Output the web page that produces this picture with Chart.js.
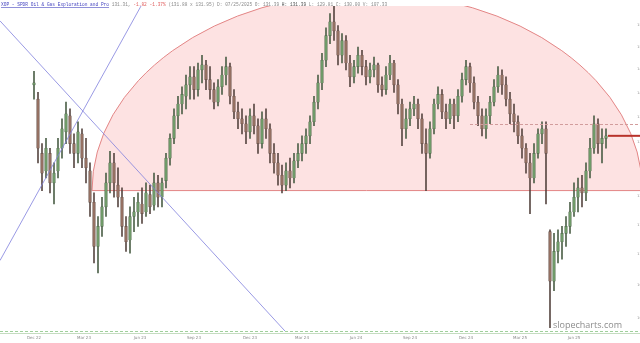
<!DOCTYPE html>
<html>
<head>
<meta charset="utf-8">
<script src="https://cdn.jsdelivr.net/npm/chart.js@4.4.1/dist/chart.umd.min.js"></script>
<style>
  html, body { margin: 0; padding: 0; background: #ffffff; }
  #grafica { display: block; }
</style>
</head>
<body>
<canvas id="grafica" width="640" height="343"></canvas>
<script>
// Datos de las velas (precio)
const aperturas = [141.7,138.7,127.9,124.6,127.9,122.4,124.6,128.9,132.1,135.3,129.8,127.9,131.7,127.0,124.6,118.9,111.3,114.7,118.1,122.4,
  126.1,122.0,119.8,114.7,112.4,116.4,117.2,118.6,117.2,120.3,118.4,122.4,119.8,122.8,127.0,130.8,135.3,137.7,139.3,141.7,
  143.4,140.7,144.9,146.0,142.8,140.7,138.1,141.3,143.8,145.6,139.3,136.1,134.7,133.7,132.1,135.3,133.3,129.8,134.7,132.7,
  127.9,126.1,123.8,122.0,124.6,123.3,126.5,127.9,129.8,131.3,134.1,138.1,142.1,147.0,152.5,155.7,153.6,148.1,151.4,146.4,
  143.4,145.6,148.1,145.6,143.4,144.9,146.0,141.7,140.7,143.8,146.4,141.7,137.7,132.7,134.7,136.7,137.7,134.7,129.8,127.9,
  132.7,137.7,139.7,136.1,134.7,137.7,135.3,139.3,142.8,145.6,142.1,138.1,135.3,132.7,135.3,138.1,141.3,143.8,141.7,138.7,
  135.7,134.1,131.3,128.9,126.1,123.3,127.9,131.7,132.7,113.8,105.7,110.5,112.1,113.5,114.7,117.2,119.8,121.5,120.6,124.6,
  128.9,133.7,129.8,130.8];
const maximos = [144.6,140.1,129.8,130.8,128.9,126.1,130.8,134.7,138.1,136.7,131.7,134.1,132.7,130.8,126.1,120.6,116.4,119.8,124.2,128.3,
  127.9,125.2,121.5,116.4,118.1,119.8,120.6,121.5,122.4,122.0,124.2,123.8,123.3,127.9,131.7,136.7,139.3,141.3,143.8,145.6,
  145.6,146.4,148.1,147.0,145.6,142.1,142.8,145.6,147.7,146.4,140.7,138.1,136.7,135.3,136.7,137.7,134.7,136.1,136.7,133.7,
  129.8,127.9,125.7,126.1,127.0,127.9,129.8,131.3,132.7,135.3,139.3,143.8,148.5,154.3,157.6,159.4,154.8,153.0,152.5,148.1,
  147.0,149.9,149.2,147.0,146.4,147.7,146.4,143.4,145.6,148.1,147.0,142.8,138.7,136.7,138.1,139.3,138.7,135.7,132.7,134.1,
  138.7,141.3,140.7,137.7,138.7,138.7,140.7,144.2,147.0,146.4,143.4,139.3,136.7,136.7,139.3,142.8,145.6,144.9,143.4,140.1,
  137.7,135.3,132.7,129.8,127.9,129.8,132.7,134.1,134.1,114.1,113.5,114.1,114.7,116.4,118.9,122.4,123.3,123.8,126.1,130.8,
  135.3,134.7,132.7,132.7];
const minimos = [138.7,126.1,121.0,123.3,120.6,118.6,123.3,127.0,129.8,127.9,125.2,126.1,125.2,122.4,116.4,108.6,107.0,113.0,116.4,120.6,
  119.8,118.1,113.0,110.5,110.2,113.8,114.7,115.2,116.4,116.9,117.5,118.1,118.1,121.5,125.7,129.8,132.7,135.7,136.7,138.7,
  138.7,139.3,142.1,140.7,138.7,136.7,137.3,139.7,141.7,137.7,134.7,132.7,131.7,129.8,130.8,131.7,127.9,128.9,130.8,126.1,
  124.2,122.0,120.6,121.0,121.5,122.4,125.2,126.5,127.9,129.8,133.3,136.7,140.7,145.6,150.7,151.4,146.0,146.4,144.9,141.3,
  142.1,144.2,143.8,141.7,142.1,143.4,140.1,139.3,139.7,142.8,140.1,135.7,129.4,130.8,133.3,135.3,132.7,127.9,121.0,127.0,
  131.7,136.7,134.7,132.7,133.7,132.7,134.1,138.1,141.7,140.1,136.7,133.3,131.3,130.8,133.7,137.3,140.1,139.7,137.3,133.7,
  132.1,129.8,127.0,124.2,116.9,122.4,127.0,129.8,118.6,98.6,104.2,108.6,109.2,111.3,113.5,116.4,117.2,118.1,119.2,123.3,
  127.9,127.9,126.1,128.9];
const cierres = [142.1,128.9,124.2,128.9,122.4,124.2,128.9,132.7,135.7,129.8,127.9,132.1,127.0,125.2,118.9,111.3,114.7,118.1,122.4,126.1,
  122.4,119.8,114.7,112.1,116.4,117.2,118.9,116.9,120.6,118.1,122.4,119.8,122.4,127.0,130.8,135.3,137.7,139.7,141.7,143.4,
  140.7,144.9,146.0,142.8,140.7,138.1,141.3,143.8,145.6,139.3,136.1,134.7,133.7,132.1,135.3,133.3,129.8,134.7,132.7,127.9,
  126.1,123.8,122.0,124.6,123.3,126.5,127.9,129.8,131.3,134.1,138.1,142.1,147.0,152.5,155.7,153.6,148.1,151.4,146.4,143.4,
  145.6,148.1,145.6,143.4,144.9,146.0,141.7,140.7,143.8,146.4,141.7,137.7,132.7,134.7,136.7,137.7,134.7,129.8,127.9,132.7,
  137.7,139.7,136.1,134.7,137.7,135.3,139.3,142.8,145.6,142.1,138.1,135.3,132.7,135.3,138.1,141.3,143.8,141.7,138.7,135.7,
  134.1,131.3,128.9,126.1,123.3,127.9,131.7,132.7,127.9,105.7,110.5,112.1,113.5,114.7,117.2,119.8,121.5,120.6,124.6,128.9,
  133.7,129.8,130.8,131.3];

// Etiquetas de los ejes
const etiquetasX = ['Dec 22','Mar 23','Jun 23','Sep 23','Dec 23','Mar 24','Jun 24','Sep 24','Dec 24','Mar 25','Jun 25'];
const posicionesX = [0, 12.5, 26.5, 40, 54, 67, 80.5, 94, 108, 121.5, 135];
const ticksY = [100, 105, 110, 115, 120, 125, 130, 135, 140, 145, 150, 155];

// Dibujos sobre el gráfico (en unidades de vela / precio)
const arcoCentro = 83.3;
const arcoSemiAncho = 68.8;
const arcoBase = 121.0;
const arcoTope = 162.6;
const lineaA = [[-8.5, 109.0], [26.75, 159.4]];
const lineaB = [[-8.5, 155.9], [62.75, 98.1]];
const resistencia = 133.7;
const resistenciaDesde = 109;
const ultimoPrecio = 131.31;

const rangoX = [-8.5, 151.5];
const rangoY = [98.11, 159.38];

// Construir datos para Chart.js
const cuerpos = cierres.map((c, i) => ({ x: i, y: [aperturas[i], c] }));
const mechas = cierres.map((c, i) => ({ x: i, y: [minimos[i], maximos[i]] }));
const coloresCuerpo = cierres.map((c, i) => c >= aperturas[i] ? '#6f9a68' : '#947062');
const coloresMecha = cierres.map((c, i) => c >= aperturas[i] ? '#43583f' : '#4f3e39');

const dibujos = {
    id: 'dibujos',
    beforeDatasetsDraw(chart) {
        const ctx = chart.ctx;
        const x = chart.scales.x;
        const y = chart.scales.y;
        const area = chart.chartArea;
        const cx = x.getPixelForValue(arcoCentro);
        const rx = x.getPixelForValue(arcoCentro + arcoSemiAncho) - cx;
        const cy = y.getPixelForValue(arcoBase);
        const ry = cy - y.getPixelForValue(arcoTope);
        ctx.save();
        ctx.beginPath();
        ctx.rect(area.left, area.top, area.right - area.left, area.bottom - area.top);
        ctx.clip();
        ctx.beginPath();
        ctx.ellipse(cx, cy, rx, ry, 0, Math.PI, 2 * Math.PI);
        ctx.closePath();
        ctx.fillStyle = '#fde2e2';
        ctx.fill();
        ctx.strokeStyle = '#e38686';
        ctx.lineWidth = 1;
        ctx.stroke();
        ctx.restore();
    },
    afterDatasetsDraw(chart) {
        const ctx = chart.ctx;
        const x = chart.scales.x;
        const y = chart.scales.y;
        const area = chart.chartArea;
        ctx.save();
        ctx.beginPath();
        ctx.rect(area.left, area.top, area.right - area.left, area.bottom - area.top);
        ctx.clip();

        // lineas azules
        ctx.strokeStyle = '#8080dd';
        ctx.lineWidth = 0.8;
        [lineaA, lineaB].forEach(l => {
            ctx.beginPath();
            ctx.moveTo(x.getPixelForValue(l[0][0]), y.getPixelForValue(l[0][1]));
            ctx.lineTo(x.getPixelForValue(l[1][0]), y.getPixelForValue(l[1][1]));
            ctx.stroke();
        });

        // resistencia punteada
        const yr = Math.round(y.getPixelForValue(resistencia)) + 0.5;
        ctx.strokeStyle = '#d29c9c';
        ctx.lineWidth = 1;
        ctx.setLineDash([3, 2]);
        ctx.beginPath();
        ctx.moveTo(x.getPixelForValue(resistenciaDesde), yr);
        ctx.lineTo(area.right, yr);
        ctx.stroke();
        ctx.setLineDash([]);

        // precio actual
        const yp = y.getPixelForValue(ultimoPrecio);
        ctx.strokeStyle = '#b8322a';
        ctx.lineWidth = 2;
        ctx.beginPath();
        ctx.moveTo(x.getPixelForValue(cierres.length - 0.5), yp);
        ctx.lineTo(area.right, yp);
        ctx.stroke();
        ctx.restore();
    },
    afterDraw(chart) {
        const ctx = chart.ctx;
        const area = chart.chartArea;
        ctx.save();
        // linea base verde
        ctx.strokeStyle = '#9fd09a';
        ctx.lineWidth = 1;
        ctx.setLineDash([3, 2]);
        ctx.beginPath();
        ctx.moveTo(0, area.bottom + 0.5);
        ctx.lineTo(area.right, area.bottom + 0.5);
        ctx.stroke();
        ctx.setLineDash([]);
        ctx.strokeStyle = '#c4dcc0';
        ctx.beginPath();
        ctx.moveTo(0, area.bottom + 2.5);
        ctx.lineTo(area.right, area.bottom + 2.5);
        ctx.stroke();

        // titulo
        ctx.font = '4.5px "Liberation Mono"';
        ctx.textBaseline = 'middle';
        let px = 1;
        const partes = [
            ['XOP - SPDR Oil & Gas Exploration and Pro', '#4646c0', true],
            [' 131.31, ', '#8a8a8a', false],
            ['-1.82 -1.37%', '#e06060', false],
            [' (131.88 x 131.95) D: 07/25/2025 O: 131.39 ', '#8a8a8a', false],
            ['H: 131.39', '#555555', false],
            [' L: 129.81 C: 130.00 V: 107.33', '#8a8a8a', false]
        ];
        partes.forEach(p => {
            ctx.fillStyle = p[1];
            ctx.fillText(p[0], px, 4.5);
            const w = ctx.measureText(p[0]).width;
            if (p[2]) {
                ctx.fillRect(px, 7, w, 0.6);
            }
            px += w;
        });

        // marca de agua
        ctx.font = '9px "Open Sans"';
        ctx.fillStyle = '#8c8c8c';
        ctx.textAlign = 'left';
        ctx.fillText('slopecharts.com', 553, 325);
        ctx.restore();
    }
};

const ctx = document.getElementById('grafica').getContext('2d');
window.myChart = new Chart(ctx, {
    type: 'bar',
    data: {
        datasets: [
            {
                label: 'Cuerpo',
                data: cuerpos,
                backgroundColor: coloresCuerpo,
                borderColor: coloresMecha,
                borderWidth: 0.4,
                borderSkipped: false,
                barThickness: 2.6,
                grouped: false
            },
            {
                label: 'Mecha',
                data: mechas,
                backgroundColor: coloresMecha,
                barThickness: 0.9,
                grouped: false
            }
        ]
    },
    options: {
        responsive: false,
        animation: false,
        layout: { padding: 0 },
        plugins: {
            legend: { display: false },
            tooltip: { enabled: false }
        },
        scales: {
            x: {
                type: 'linear',
                min: rangoX[0],
                max: rangoX[1],
                bounds: 'data',
                offset: false,
                grid: { display: false, drawTicks: false },
                border: { display: false },
                afterBuildTicks: s => { s.ticks = posicionesX.map(v => ({ value: v })); },
                afterFit: s => { s.height = 12; },
                ticks: {
                    autoSkip: false,
                    maxRotation: 0,
                    padding: 5,
                    color: '#8a8a8a',
                    font: { size: 4, family: 'DejaVu Sans' },
                    callback: (v, i) => etiquetasX[i]
                }
            },
            y: {
                type: 'logarithmic',
                position: 'right',
                min: rangoY[0],
                max: rangoY[1],
                bounds: 'data',
                grid: { display: false, drawTicks: false },
                border: { display: false },
                afterBuildTicks: s => { s.ticks = ticksY.map(v => ({ value: v })); },
                afterFit: s => { s.width = 0; },
                ticks: {
                    mirror: true,
                    padding: 4,
                    color: '#909090',
                    font: { size: 3.5, family: 'DejaVu Sans' },
                    callback: v => v.toFixed(0)
                }
            }
        }
    },
    plugins: [dibujos]
});
</script>
</body>
</html>
